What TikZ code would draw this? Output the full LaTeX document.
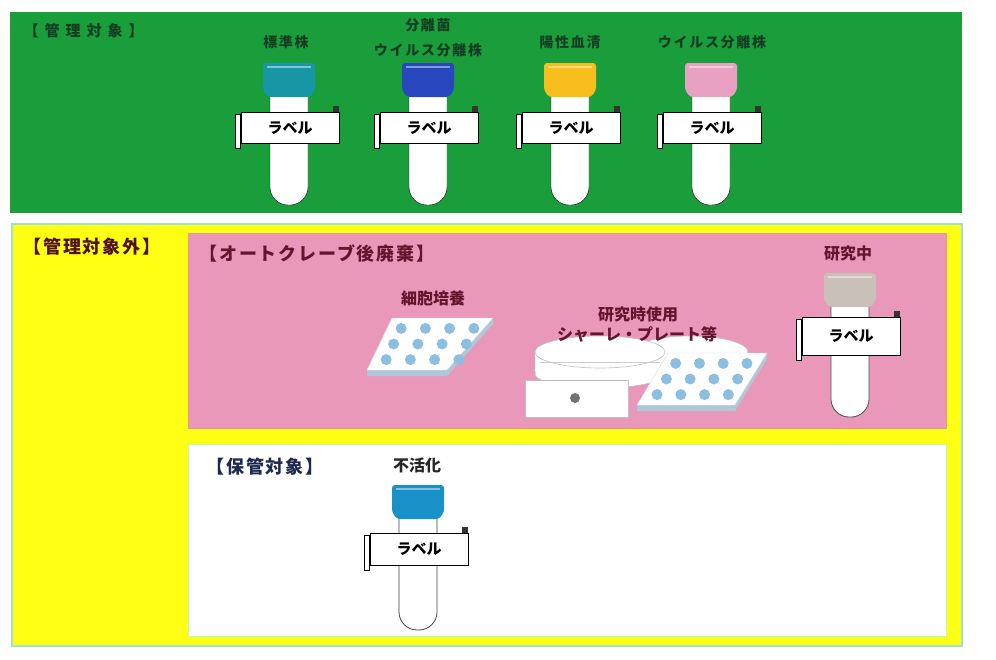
\documentclass[tikz,border=0pt]{standalone}
\usepackage{fontspec}
\setmainfont{Noto Sans CJK JP}
\usetikzlibrary{calc}

\definecolor{grn}{RGB}{26,158,60}
\definecolor{ylw}{RGB}{255,255,20}
\definecolor{pnk}{RGB}{233,152,186}
\definecolor{edgecyan}{RGB}{160,225,205}
\definecolor{capteal}{RGB}{24,150,165}
\definecolor{capblue}{RGB}{40,70,190}
\definecolor{capyellow}{RGB}{248,190,30}
\definecolor{cappink}{RGB}{232,160,195}
\definecolor{capgray}{RGB}{200,192,185}
\definecolor{capsky}{RGB}{25,145,200}
\definecolor{maroon}{RGB}{100,20,45}
\definecolor{navy}{RGB}{30,40,80}
\definecolor{greentext}{RGB}{20,62,36}
\definecolor{welldot}{RGB}{140,190,225}
\definecolor{platebase}{RGB}{175,200,215}

\tikzset{
  tag/.style={draw=black, line width=.7pt, fill=white, inner sep=0pt,
    minimum width=98pt, font=\fontsize{15}{15}\selectfont\bfseries},
  vialtitle/.style={text=greentext, font=\fontsize{14}{16}\selectfont\bfseries\addfontfeature{LetterSpace=12}},
  pinktitle/.style={text=maroon, font=\fontsize{16}{18}\selectfont\bfseries},
  heading/.style={font=\fontsize{18}{20}\selectfont\bfseries\addfontfeature{LetterSpace=10}, anchor=west},
  dishline/.style={draw=black!25, line width=.6pt, fill=white},
}

% vial: #1 name, #2 centre x, #3 cap top, #4 label top, #5 bottom,
%       #6 cap colour, #7 body style, #8 label height
\newcommand\vialtube[8]{%
  \begin{scope}[shift={(#2,0)}]
    \draw[#7] (-19,#3+30) [rounded corners=18pt] -- (-19,#5) -- (19,#5)
      [sharp corners] -- (19,#3+30);
    \fill[#6, rounded corners=3pt] (-26,#3) -- (26,#3) -- (26,#3+27)
      -- (21,#3+34) -- (-21,#3+34) -- (-26,#3+27) -- cycle;
    \draw[white, opacity=.45, line width=1.2pt] (-22,#3+4) -- (22,#3+4);
    \node[tag, minimum height=#8pt, anchor=north] (#1) at (1,#4) {ラベル};
    \draw[fill=white, line width=.6pt] ($(#1.north west)+(-5,2)$) rectangle ($(#1.south west)+(0,5)$);
    \fill[black!80] ($(#1.north east)+(-6,-6)$) rectangle (#1.north east);
  \end{scope}}

\begin{document}
\begin{tikzpicture}[x=1pt, y=-1pt]
\useasboundingbox (0,0) rectangle (996,659);
\fill[white] (0,0) rectangle (996,659);

% panels
\fill[grn] (10,12) rectangle (962,213);
\fill[ylw, draw=edgecyan, line width=1.5pt] (12,224) rectangle (962,646);
\fill[pnk, draw=pnk!85!orange, line width=.8pt] (188,233) rectangle (946,428);
\fill[white, draw=green!30, line width=.8pt] (188,444) rectangle (946,636);

% managed items
\node[vialtitle, anchor=west, font=\fontsize{15}{16}\selectfont\bfseries\addfontfeature{LetterSpace=40}] (kanri) at (20,31) {【管理対象】};
\node[vialtitle] (t1) at (286,42) {標準株};
\node[vialtitle] (t2a) at (428,25) {分離菌};
\node[vialtitle] (t2b) at (428,50) {ウイルス分離株};
\node[vialtitle] (t3) at (570,42) {陽性血清};
\node[vialtitle] (t4) at (712,42) {ウイルス分離株};

\vialtube{v1}{289}{63}{112}{205}{capteal}{fill=white}{31}
\vialtube{v2}{428}{63}{112}{205}{capblue}{fill=white}{31}
\vialtube{v3}{570}{63}{112}{205}{capyellow}{fill=white}{31}
\vialtube{v4}{711}{63}{112}{205}{cappink}{fill=white}{31}

% not managed
\node[heading, text=maroon!80!black] (gai) at (20,247) {【管理対象外】};
\node[heading, text=maroon] (auto) at (196,254) {【オートクレーブ後廃棄】};

% cell-culture plate
\fill[platebase] (367,370) -- (447,370) -- (493,318) -- (493,324) -- (447,376) -- (367,376) -- cycle;
\fill[white, draw=black!15] (392,318) -- (493,318) -- (447,370) -- (367,370) -- cycle;
\foreach \u in {0.14,0.38,0.62,0.86}
  \foreach \v in {0.2,0.5,0.8}
    \fill[welldot] (392+\u*101-\v*25, 318+\v*52) circle[radius=5.5pt];
\node[pinktitle] (saibou) at (433,298) {細胞培養};

% dishes and plate
\fill[dishline] (690,352) ellipse[x radius=58pt, y radius=16pt];
\fill[white] (535,352) rectangle (665,374);
\draw[dishline] (600,374) ellipse[x radius=65pt, y radius=14pt];
\fill[white] (536,356) rectangle (664,374);
\draw[dishline] (600,352) ellipse[x radius=65pt, y radius=16pt];
\draw[black!20] (540,362) -- (660,362);
\draw[dishline] (525,380) rectangle (628,417);
\fill[black!55] (575,398) circle[radius=5pt];
\fill[platebase] (637,405) -- (735,405) -- (767,353) -- (767,359) -- (735,411) -- (637,411) -- cycle;
\fill[white, draw=black!15] (668,353) -- (767,353) -- (735,405) -- (637,405) -- cycle;
\foreach \u in {0.14,0.38,0.62,0.86}
  \foreach \v in {0.2,0.5,0.8}
    \fill[welldot] (668+\u*99-\v*31, 353+\v*52) circle[radius=5.5pt];
\node[pinktitle] (kenkyu) at (638,314) {研究時使用};
\node[pinktitle] (shale) at (637,334) {シャーレ・プレート等};

% tube in use
\node[pinktitle] (chu) at (848,253) {研究中};
\vialtube{v5}{850}{273}{317}{417}{capgray}{fill=white, draw=black!70, line width=.8pt}{38}

% kept items
\node[heading, text=navy] (hokan) at (203,467) {【保管対象】};
\node[pinktitle, text=black!85] (fukatsu) at (417,465) {不活化};
\vialtube{v6}{418}{485}{533}{630}{capsky}{fill=white, draw=black!75, line width=.8pt}{32}
\end{tikzpicture}
\end{document}
